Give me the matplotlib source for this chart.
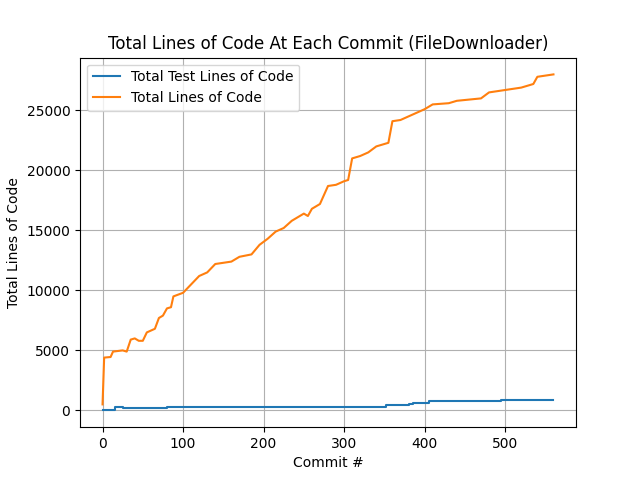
import matplotlib
matplotlib.use("Agg")
import matplotlib.pyplot as plt

# Total lines of code (commit #, value)
total_commits = [0, 2, 10, 13, 25, 30, 35, 40, 45, 50, 55, 65, 70, 75, 80, 85, 88, 100,
                 110, 120, 130, 140, 150, 160, 170, 185, 195, 205, 215, 225, 235, 245,
                 250, 255, 260, 270, 280, 290, 300, 305, 310, 320, 330, 340, 355, 360,
                 370, 380, 390, 400, 410, 430, 440, 470, 480, 500, 520, 535, 540, 560]
total_loc = [500, 4400, 4450, 4900, 5000, 4900, 5900, 6000, 5800, 5800, 6500, 6800, 7700,
             7900, 8500, 8600, 9500, 9800, 10500, 11200, 11500, 12200, 12300, 12400, 12800,
             13000, 13800, 14300, 14900, 15200, 15800, 16200, 16400, 16200, 16800, 17200,
             18700, 18800, 19100, 19200, 21000, 21200, 21500, 22000, 22300, 24100, 24200,
             24500, 24800, 25100, 25500, 25600, 25800, 26000, 26500, 26700, 26900, 27200,
             27800, 28000]

# Total test lines of code
test_commits = [0, 12, 15, 25, 80, 350, 352, 380, 385, 405, 490, 495, 560]
test_loc = [0, 0, 250, 200, 300, 300, 450, 500, 600, 750, 780, 850, 850]

fig, ax = plt.subplots(figsize=(6.4, 4.8), dpi=100)
ax.plot(test_commits, test_loc, label="Total Test Lines of Code", drawstyle="steps-post")
ax.plot(total_commits, total_loc, label="Total Lines of Code")
ax.set_title("Total Lines of Code At Each Commit (FileDownloader)")
ax.set_xlabel("Commit #")
ax.set_ylabel("Total Lines of Code")
ax.grid(True)
ax.legend(loc="upper left")
fig.savefig("out.png")
